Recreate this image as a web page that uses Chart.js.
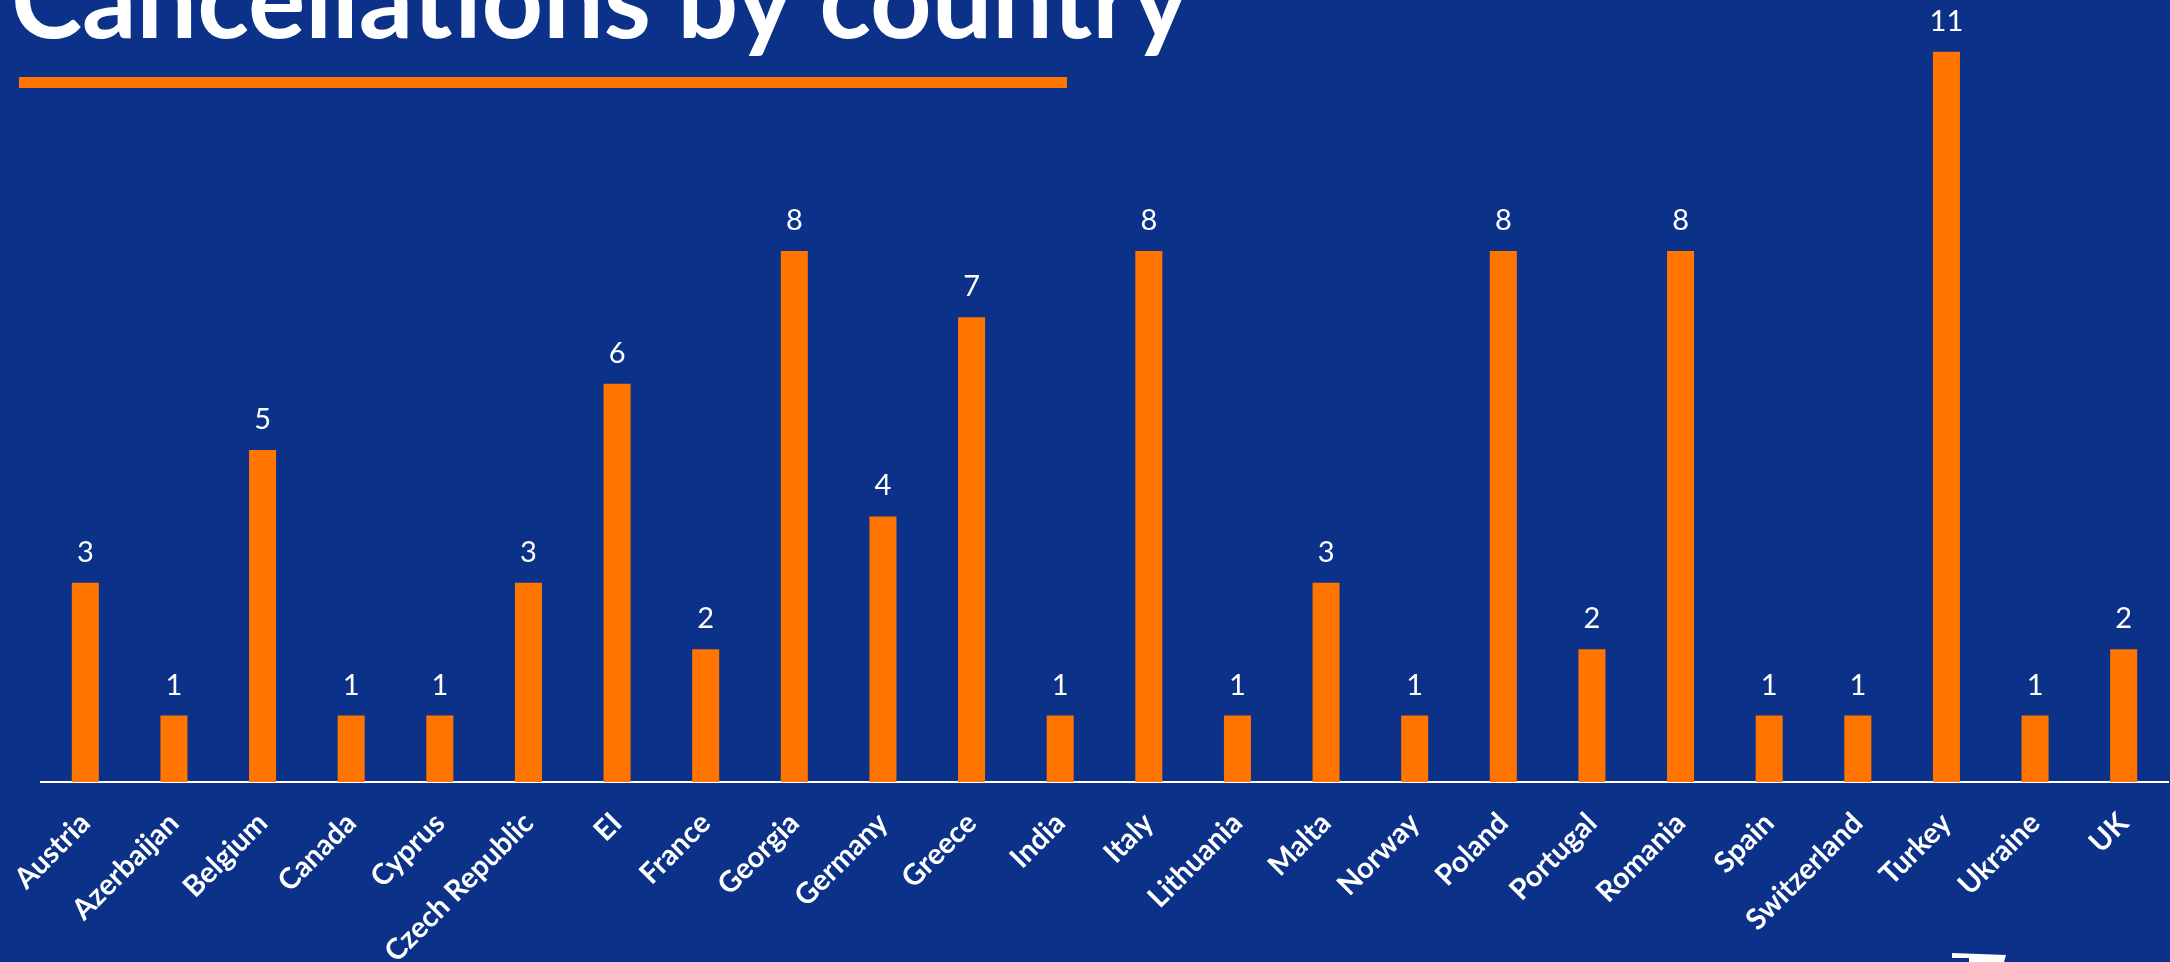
<!DOCTYPE html>
<html>
<head>
<meta charset="utf-8">
<script src="https://cdn.jsdelivr.net/npm/chart.js@4.4.1/dist/chart.umd.min.js"></script>
<style>
  html, body { margin: 0; padding: 0; background: #0b3188; overflow: hidden; }
  canvas { display: block; }
</style>
</head>
<body>
<canvas id="barChart" width="2170" height="962"></canvas>
<script>
const countries = ['Austria', 'Azerbaijan', 'Belgium', 'Canada', 'Cyprus', 'Czech Republic', 'EI', 'France',
    'Georgia', 'Germany', 'Greece', 'India', 'Italy', 'Lithuania', 'Malta', 'Norway', 'Poland', 'Portugal',
    'Romania', 'Spain', 'Switzerland', 'Turkey', 'Ukraine', 'UK'];
const cancellations = [3, 1, 5, 1, 1, 3, 6, 2, 8, 4, 7, 1, 8, 1, 3, 1, 8, 2, 8, 1, 1, 11, 1, 2];
const titleText = 'Cancellations by country';

const orange = '#ff7500';
const white = '#ffffff';

// value labels above each bar
const valueLabels = {
    id: 'valueLabels',
    afterDatasetsDraw(chart) {
        const ctx = chart.ctx;
        const meta = chart.getDatasetMeta(0);
        ctx.save();
        ctx.fillStyle = white;
        ctx.font = '29px Lato';
        ctx.textAlign = 'center';
        ctx.textBaseline = 'alphabetic';
        meta.data.forEach((bar, i) => {
            ctx.fillText(String(cancellations[i]), bar.x, bar.y - 21);
        });
        ctx.restore();
    }
};

// slide title, underline and logo corner
const slideDecor = {
    id: 'slideDecor',
    afterDraw(chart) {
        const ctx = chart.ctx;
        ctx.save();
        ctx.font = 'bold 100px Lato';
        const w = ctx.measureText(titleText).width;
        const size = 100 * 1178 / w;
        ctx.font = 'bold ' + size + 'px Lato';
        ctx.fillStyle = white;
        ctx.textAlign = 'left';
        ctx.textBaseline = 'alphabetic';
        ctx.fillText(titleText, 11, 38);

        ctx.fillStyle = orange;
        ctx.fillRect(19, 77, 1048, 11);

        ctx.fillStyle = white;
        ctx.beginPath();
        ctx.moveTo(1952, 953);
        ctx.lineTo(2006, 955);
        ctx.lineTo(2004, 962);
        ctx.lineTo(1969, 962);
        ctx.lineTo(1969, 958);
        ctx.lineTo(1952, 958);
        ctx.closePath();
        ctx.fill();
        ctx.restore();
    }
};

const ctxBar = document.getElementById('barChart');
new Chart(ctxBar, {
    type: 'bar',
    data: {
        labels: countries,
        datasets: [{
            data: cancellations,
            backgroundColor: orange,
            borderWidth: 0,
            categoryPercentage: 1,
            barPercentage: 0.305
        }]
    },
    options: {
        responsive: false,
        animation: false,
        layout: {
            padding: { left: 41, right: 2, top: 0, bottom: 0 }
        },
        plugins: {
            legend: { display: false },
            tooltip: { enabled: false }
        },
        scales: {
            x: {
                grid: { display: false, drawTicks: false, tickLength: 0 },
                border: { display: true, color: white, width: 2 },
                ticks: {
                    color: white,
                    font: { family: 'Lato', size: 29, weight: 'bold' },
                    minRotation: 45,
                    maxRotation: 45,
                    autoSkip: false,
                    padding: 24
                },
                afterFit(scale) {
                    scale.height = 180;
                    scale.paddingLeft = 0;
                    scale.paddingRight = 0;
                }
            },
            y: {
                display: false,
                min: 0,
                max: 11.78
            }
        }
    },
    plugins: [valueLabels, slideDecor]
});
</script>
</body>
</html>
